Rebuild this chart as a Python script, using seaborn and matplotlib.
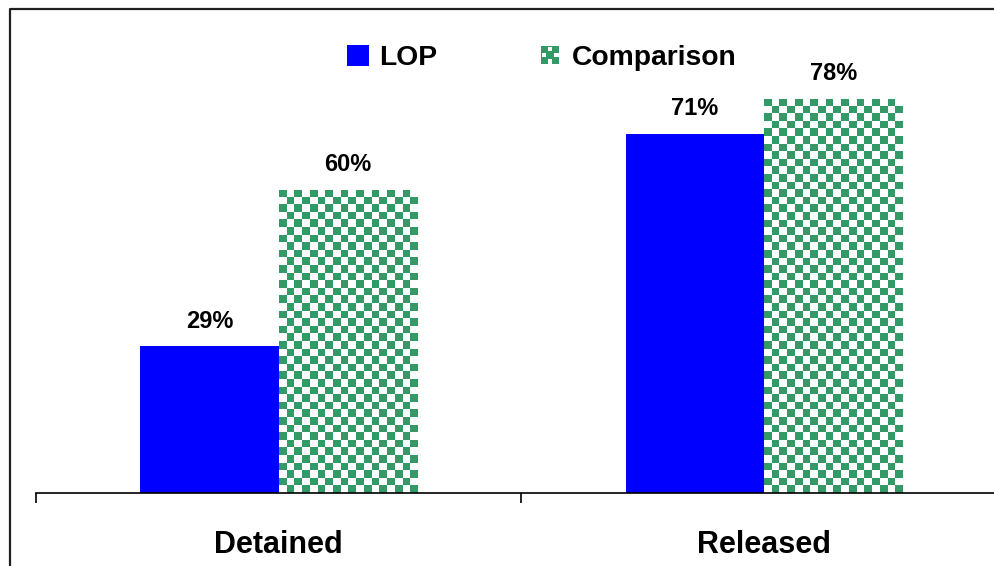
import numpy as np
import pandas as pd
import matplotlib
matplotlib.use("Agg")
import matplotlib.pyplot as plt
from matplotlib.patches import Rectangle
from matplotlib.lines import Line2D
from matplotlib.legend_handler import HandlerBase
import seaborn as sns

# Data
categories = ["Detained", "Released"]
series = ["LOP", "Comparison"]
lop_values = [29, 71]
comparison_values = [60, 78]

BLUE = "#0000FF"
GREEN = "#339966"

df = pd.DataFrame({
    "status": categories * 2,
    "group": [series[0]] * len(categories) + [series[1]] * len(categories),
    "pct": lop_values + comparison_values,
})

sns.set_style("white")
plt.rcParams["font.family"] = ["Liberation Sans", "DejaVu Sans"]
plt.rcParams["font.weight"] = "bold"
plt.rcParams["text.color"] = "black"
plt.rcParams["xtick.color"] = "black"
plt.rcParams["axes.labelcolor"] = "black"

fig = plt.figure(figsize=(9.94, 5.66), dpi=100)
ax = fig.add_axes([0.036, 0.129, 0.977, 0.804])

sns.barplot(data=df, x="status", y="pct", hue="group", hue_order=series,
            order=categories, palette={series[0]: BLUE, series[1]: GREEN},
            width=0.57, gap=0, saturation=1, legend=False, ax=ax,
            edgecolor="none", linewidth=0)

ax.set_xlim(-0.5, 1.5)
ax.set_ylim(0, 90)
fig.canvas.draw()

# Checkerboard fill for the comparison bars
cell_px = 7.6
for bar in ax.containers[1]:
    x, w, h = bar.get_x(), bar.get_width(), bar.get_height()
    p0 = ax.transData.transform((x, 0))
    p1 = ax.transData.transform((x + w, h))
    nx = max(1, int(round(abs(p1[0] - p0[0]) / cell_px)))
    ny = max(1, int(round(abs(p1[1] - p0[1]) / cell_px)))
    ii, jj = np.indices((ny, nx))
    mask = ((ii + jj) % 2 == 0)
    g = np.array(matplotlib.colors.to_rgb(GREEN))
    img = np.ones((ny, nx, 3))
    img[mask] = g
    im = ax.imshow(img, extent=[x, x + w, 0, h], origin="upper",
                   interpolation="nearest", aspect="auto", zorder=bar.get_zorder() + 0.1)
    im.set_clip_path(bar)

ax.set_xlim(-0.5, 1.5)
ax.set_ylim(0, 90)

# Value labels
for cont, vals in zip(ax.containers, [lop_values, comparison_values]):
    for bar, v in zip(cont, vals):
        ax.annotate(f"{v}%", (bar.get_x() + bar.get_width() / 2, v),
                    xytext=(0, 13.5), textcoords="offset points",
                    ha="center", va="baseline", fontsize=17, fontweight="bold",
                    color="black", zorder=5)

# Axes styling
for side in ["left", "right", "top"]:
    ax.spines[side].set_visible(False)
ax.spines["bottom"].set_color("black")
ax.spines["bottom"].set_linewidth(1.2)
ax.set_yticks([])
ax.set_ylabel("")
ax.set_xlabel("")
ax.set_xticks([0, 1])
ax.set_xticklabels(categories, fontsize=22, fontweight="bold", color="black")
ax.set_xticks([-0.5, 0.5, 1.5], minor=True)
ax.tick_params(axis="x", which="major", length=0, pad=26.5)
ax.tick_params(axis="x", which="minor", length=7.2, width=1.2, direction="out",
               color="black", bottom=True)


class CheckerHandler(HandlerBase):
    def create_artists(self, legend, orig_handle, xdescent, ydescent,
                       width, height, fontsize, trans):
        size = height * 0.88
        x0 = -xdescent + (width - size) / 2
        y0 = -ydescent + (height - size) / 2
        step = size / 3
        arts = [Rectangle((x0, y0), size, size, facecolor=GREEN,
                          edgecolor="none", transform=trans)]
        for i in range(3):
            for j in range(3):
                if (i + j) % 2 == 1:
                    arts.append(Rectangle((x0 + j * step + step * 0.15,
                                           y0 + i * step + step * 0.15),
                                          step * 0.7, step * 0.7,
                                          facecolor="white", edgecolor="none",
                                          transform=trans))
        return arts


class CheckerKey:
    pass


handles = [Rectangle((0, 0), 1, 1, facecolor=BLUE, edgecolor="none"), CheckerKey()]
leg = fig.legend(handles, series, handler_map={CheckerKey: CheckerHandler()},
                 loc="center", bbox_to_anchor=(0.545, 0.898), ncol=2, frameon=False,
                 prop={"size": 20.3, "weight": "bold"}, handlelength=0.78,
                 handleheight=0.78, handletextpad=0.38, columnspacing=3.6,
                 borderpad=0, borderaxespad=0, labelcolor="black")

# Outer frame lines
fig.add_artist(Line2D([0.0105, 0.0105, 1.0], [0.0, 0.984, 0.984],
                      transform=fig.transFigure, color="#202020", linewidth=1.6))

fig.savefig("out.png", dpi=100)
